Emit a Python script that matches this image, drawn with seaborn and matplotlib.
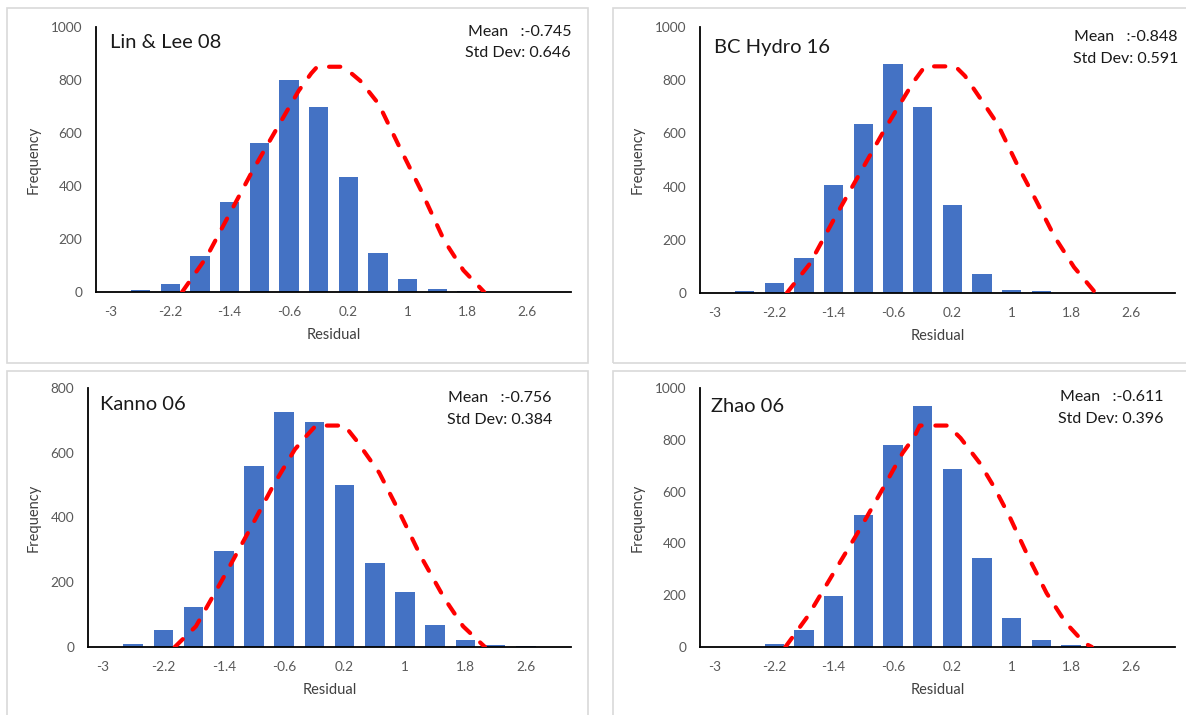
import matplotlib
matplotlib.use("Agg")
import matplotlib.pyplot as plt
from matplotlib.patches import Rectangle
import seaborn as sns
import pandas as pd

sns.set_theme(style="white")
plt.rcParams['font.family'] = ['Lato', 'DejaVu Sans']

# ---------------- data ----------------
bins = [-3.0, -2.6, -2.2, -1.8, -1.4, -1.0, -0.6, -0.2, 0.2, 0.6, 1.0, 1.4, 1.8, 2.2, 2.6, 3.0]
tick_vals = [-3.0, -2.2, -1.4, -0.6, 0.2, 1.0, 1.8, 2.6]
tick_labels = ["-3", "-2.2", "-1.4", "-0.6", "0.2", "1", "1.8", "2.6"]

names = ["Lin & Lee 08", "BC Hydro 16", "Kanno 06", "Zhao 06"]
means = ["-0.745", "-0.848", "-0.756", "-0.611"]
stds = ["0.646", "0.591", "0.384", "0.396"]

freq_lin = [0, 6, 29, 134, 339, 561, 800, 699, 435, 146, 50, 11, 2, 0, 0, 0]
freq_bch = [0, 6, 37, 131, 405, 637, 862, 701, 329, 70, 11, 6, 0, 0, 0, 0]
freq_kan = [0, 10, 54, 124, 298, 560, 726, 696, 500, 261, 169, 68, 23, 7, 4, 0]
freq_zha = [0, 0, 12, 67, 198, 510, 780, 929, 687, 345, 111, 27, 6, 0, 0, 0]

curve_lin_x = [-2.04, -1.71, -1.40, -1.09, -0.78, -0.47, -0.30, -0.22, 0.10, 0.22, 0.36, 0.61, 0.87, 1.18, 1.49, 1.75, 2.03]
curve_lin_y = [0, 132, 295, 458, 609, 759, 825, 850, 850, 830, 797, 709, 558, 383, 195, 82, 0]

curve_bch_x = [-2.03, -1.72, -1.38, -1.05, -0.71, -0.48, -0.33, -0.17, 0.24, 0.37, 0.60, 0.81, 1.07, 1.33, 1.58, 1.84, 2.13]
curve_bch_y = [0, 110, 285, 448, 616, 722, 791, 852, 852, 816, 722, 635, 485, 347, 210, 97, 0]

curve_kan_x = [-2.05, -1.77, -1.42, -1.07, -0.74, -0.46, -0.31, -0.18, 0.20, 0.35, 0.66, 0.91, 1.21, 1.52, 1.77, 2.06]
curve_kan_y = [0, 64, 208, 357, 501, 610, 651, 684, 684, 640, 538, 424, 280, 151, 64, 0]

curve_zha_x = [-2.05, -1.75, -1.40, -1.05, -0.72, -0.47, -0.31, -0.24, 0.14, 0.31, 0.57, 0.77, 0.97, 1.22, 1.47, 1.73, 1.98, 2.08]
curve_zha_y = [0, 118, 286, 453, 620, 749, 813, 855, 855, 807, 710, 614, 504, 350, 208, 93, 15, 0]

freqs = [freq_lin, freq_bch, freq_kan, freq_zha]
curves = [(curve_lin_x, curve_lin_y), (curve_bch_x, curve_bch_y),
          (curve_kan_x, curve_kan_y), (curve_zha_x, curve_zha_y)]
ymax = [1000, 1000, 800, 1000]

# ---------------- layout ----------------
W, H = 1186, 715
fig = plt.figure(figsize=(W / 100, H / 100), dpi=100)
fig.patch.set_facecolor("white")

# axes boxes in pixels: (left, top, right, bottom)
axes_px = [(96, 27, 571, 292), (700, 27, 1175, 293),
           (88, 388, 571, 647), (700, 388, 1175, 647)]
border_px = [(7, 8, 588, 363), (613, 8, 1195, 363),
             (7, 371, 588, 725), (613, 371, 1195, 725)]
title_px = [(110, 43), (714, 47), (100, 405), (711, 406)]
stat_px = [(571, 32, 53), (1178, 37, 59), (552, 398, 420), (1163, 397, 419)]

bar_color = "#4472C4"
text_gray = "#595959"

for i in range(4):
    bl, bt, br, bb = border_px[i]
    fig.patches.append(Rectangle((bl / W, 1 - bb / H), (br - bl) / W, (bb - bt) / H,
                                 transform=fig.transFigure, fill=False,
                                 edgecolor="#D9D9D9", lw=1.2, zorder=0))

    l, t, r, b = axes_px[i]
    ax = fig.add_axes([l / W, 1 - b / H, (r - l) / W, (b - t) / H])
    df = pd.DataFrame({"Residual": bins, "Frequency": freqs[i]})
    sns.barplot(data=df, x="Residual", y="Frequency", native_scale=True,
                color=bar_color, saturation=1, width=0.65, ax=ax,
                edgecolor="none", linewidth=0)
    cx, cy = curves[i]
    ax.plot(cx, cy, color="#FF0000", lw=3.0, linestyle=(0, (2.7, 3.3)),
            dash_capstyle="round", zorder=5)

    ax.set_xlim(-3.2, 3.2)
    ax.set_ylim(0, ymax[i])
    ax.set_xticks(tick_vals)
    ax.set_xticklabels(tick_labels)
    ax.set_yticks(list(range(0, ymax[i] + 1, 200)))
    ax.tick_params(axis="both", length=0, labelsize=9.8, colors=text_gray)
    ax.tick_params(axis="x", pad=10)
    ax.tick_params(axis="y", pad=10)
    for s in ["top", "right"]:
        ax.spines[s].set_visible(False)
    for s in ["left", "bottom"]:
        ax.spines[s].set_color("black")
        ax.spines[s].set_linewidth(1.3)
    ax.set_facecolor("none")
    ax.set_xlabel("Residual", fontsize=10.5, color="#404040", labelpad=7)
    ax.set_ylabel("Frequency", fontsize=10.5, color="#404040", labelpad=7)

    tx, ty = title_px[i]
    fig.text(tx / W, 1 - ty / H, names[i], fontsize=14.5, color="#1a1a1a",
             ha="left", va="center")
    sx, sy1, sy2 = stat_px[i]
    fig.text(sx / W, 1 - sy1 / H, "Mean   :" + means[i], fontsize=11.5,
             color="#1a1a1a", ha="right", va="center")
    fig.text(sx / W, 1 - sy2 / H, "Std Dev: " + stds[i], fontsize=11.5,
             color="#1a1a1a", ha="right", va="center")

fig.savefig("out.png", dpi=100, facecolor="white")
